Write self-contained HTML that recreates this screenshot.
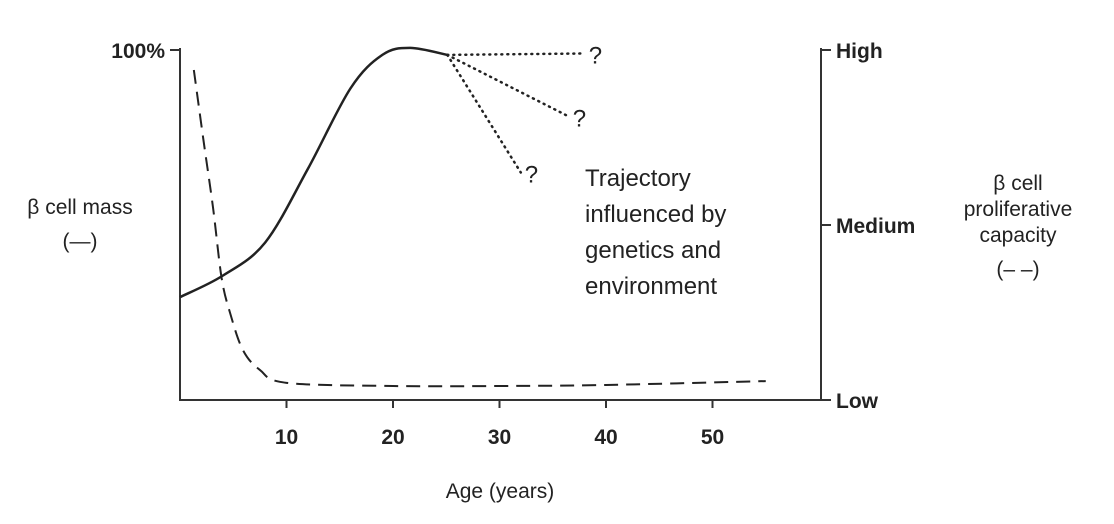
<!DOCTYPE html>
<html><head><meta charset="utf-8"><style>
body{margin:0;background:#fff;}
svg{display:block;font-family:"Liberation Sans",sans-serif;}
.tk{font-family:"Liberation Sans Narrow","Liberation Sans",sans-serif;font-weight:bold;font-size:21px;fill:#222;}
.lb{font-size:21px;fill:#222;}
</style></head><body>
<svg id="chart" width="1114" height="524" viewBox="0 0 1114 524">
<g id="axes">
<line x1="180" y1="48" x2="180" y2="401" stroke="#333" stroke-width="2"/>
<line x1="180" y1="400" x2="822" y2="400" stroke="#333" stroke-width="2"/>
<line x1="821" y1="48" x2="821" y2="401" stroke="#333" stroke-width="2"/>
<line x1="170" y1="50" x2="180" y2="50" stroke="#333" stroke-width="2"/>
<text x="165" y="58" text-anchor="end" class="tk">100%</text>
</g>
<g id="marks"></g>
<text x="585" y="186" class="lb" style="font-size:24px">Trajectory</text>
<text x="585" y="222" class="lb" style="font-size:24px">influenced by</text>
<text x="585" y="258" class="lb" style="font-size:24px">genetics and</text>
<text x="585" y="294" class="lb" style="font-size:24px">environment</text>
<text x="80" y="214" text-anchor="middle" class="lb">β cell mass</text>
<text x="80" y="248" text-anchor="middle" class="lb">(—)</text>
<text x="1018" y="190" text-anchor="middle" class="lb">β cell</text>
<text x="1018" y="216" text-anchor="middle" class="lb">proliferative</text>
<text x="1018" y="242" text-anchor="middle" class="lb">capacity</text>
<text x="1018" y="276" text-anchor="middle" class="lb">(– –)</text>
<text x="500" y="498" text-anchor="middle" class="lb">Age (years)</text>
</svg>
<script>
const xTicks=[10,20,30,40,50];
const rightTicks=["Low","Medium","High"];
const rightTickValues=[0,50,100];
const massAge=[0,4,8,12,16,19,21.6,25.1];
const massValue=[29.4,35.5,45,66,89,98.6,100.6,98.6];
const prolAge=[1.3,2.2,3.1,3.9,4.7,5.9,7.5,10,20,30,40,55];
const prolValue=[94.3,74.3,55,35,24.9,14.3,8.6,4.9,4,4,4.3,5.4];
const futureEnd=[[38,99],[36.5,81],[32,65]];

const X=a=>180+a*10.65;
const Y=v=>400-v*3.5;
const NS="http://www.w3.org/2000/svg";
const axes=document.getElementById('axes');
const marks=document.getElementById('marks');
function mk(t,at,p){const e=document.createElementNS(NS,t);for(const k in at)e.setAttribute(k,at[k]);p.appendChild(e);return e;}
function smooth(pts){let d="M"+pts[0][0]+","+pts[0][1];for(let i=0;i<pts.length-1;i++){const p0=pts[i-1]||pts[i],p1=pts[i],p2=pts[i+1],p3=pts[i+2]||p2;
d+=" C"+(p1[0]+(p2[0]-p0[0])/6)+","+(p1[1]+(p2[1]-p0[1])/6)+" "+(p2[0]-(p3[0]-p1[0])/6)+","+(p2[1]-(p3[1]-p1[1])/6)+" "+p2[0]+","+p2[1];}return d;}
xTicks.forEach((t,i)=>{
const l=mk('line',{x1:X(t),y1:400,x2:X(t),y2:408,stroke:'#333','stroke-width':2},axes);


const tx=mk('text',{x:X(t),y:444,'text-anchor':'middle',class:'tk'},axes);tx.textContent=t;


});
rightTicks.forEach((t,i)=>{
const y=Y(rightTickValues[i]);
const l=mk('line',{x1:821,y1:y,x2:831,y2:y,stroke:'#333','stroke-width':2},axes);


const tx=mk('text',{x:836,y:y+8,class:'tk'},axes);tx.textContent=t;


});
const mp=mk('path',{d:smooth(massAge.map((a,i)=>[X(a),Y(massValue[i])])),fill:'none',stroke:'#222','stroke-width':2.5},marks);


const pp=mk('path',{d:smooth(prolAge.map((a,i)=>[X(a),Y(prolValue[i])])),fill:'none',stroke:'#222','stroke-width':2,'stroke-dasharray':'14 8'},marks);


const sx=X(massAge[massAge.length-1]),sy=Y(massValue[massValue.length-1]);
futureEnd.forEach((e,i)=>{
const l=mk('line',{x1:sx,y1:sy,x2:X(e[0]),y2:Y(e[1]),stroke:'#222','stroke-width':2.5,'stroke-dasharray':'1 5','stroke-linecap':'round'},marks);


const q=mk('text',{x:X(e[0])+4,y:Y(e[1])+10,class:'lb',style:'font-size:24px'},marks);q.textContent='?';


});
</script>
</body></html>
